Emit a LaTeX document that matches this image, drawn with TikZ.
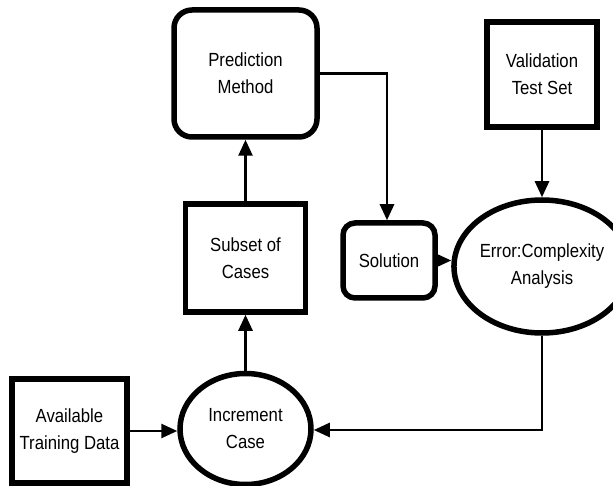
\documentclass[tikz,border=0pt]{standalone}
\usepackage{fontspec}
\setmainfont[FakeStretch=0.88]{Liberation Sans}
\usetikzlibrary{shapes.geometric,arrows.meta}
\begin{document}
\begin{tikzpicture}[x=1pt,y=-1pt,
  every node/.style={font=\fontsize{19}{27}\selectfont, align=center, inner sep=0pt},
  sqbox/.style={draw, line width=5.5pt, rectangle},
  rbox/.style={draw, line width=5.5pt, rectangle, rounded corners=#1},
  oval/.style={draw, line width=5.5pt, ellipse},
  conn/.style={line width=2.6pt, -{Triangle[length=16pt,width=14pt]}}]
\useasboundingbox (0,0) rectangle (613,486);
\node[rbox=18pt, minimum width=143pt, minimum height=127pt] (pred) at (245.5,73.5) {Prediction\\Method};
\node[sqbox, minimum width=120pt, minimum height=108pt] (subset) at (245.5,258) {Subset of\\Cases};
\node[rbox=12pt, minimum width=92pt, minimum height=75pt] (sol) at (389,260.5) {Solution};
\node[sqbox, minimum width=110pt, minimum height=105pt] (val) at (542,74.5) {Validation\\Test Set};
\node[oval, minimum width=140pt, minimum height=133pt] (err) at (542,266.5) {Error:Complexity\\Analysis};
\node[oval, minimum width=131pt, minimum height=111pt] (inc) at (245.5,429) {Increment\\Case};
\node[sqbox, minimum width=115pt, minimum height=104pt] (avail) at (69.5,431) {Available\\Training Data};
\coordinate (c1) at (387,73.5);
\coordinate (c2) at (542,430);
\draw[conn] (avail.east) -- (avail.east -| inc.west);
\draw[conn] (inc.north) -- (subset.south);
\draw[conn] (subset.north) -- (pred.south);
\draw[conn] (pred.east) -- (c1) -- (c1 |- sol.north);
\draw[conn] (sol.east) -- (sol.east -| err.west);
\draw[conn] (val.south) -- (err.north);
\draw[conn] (err.south) -- (c2) -- (c2 -| inc.east);
\end{tikzpicture}
\end{document}
